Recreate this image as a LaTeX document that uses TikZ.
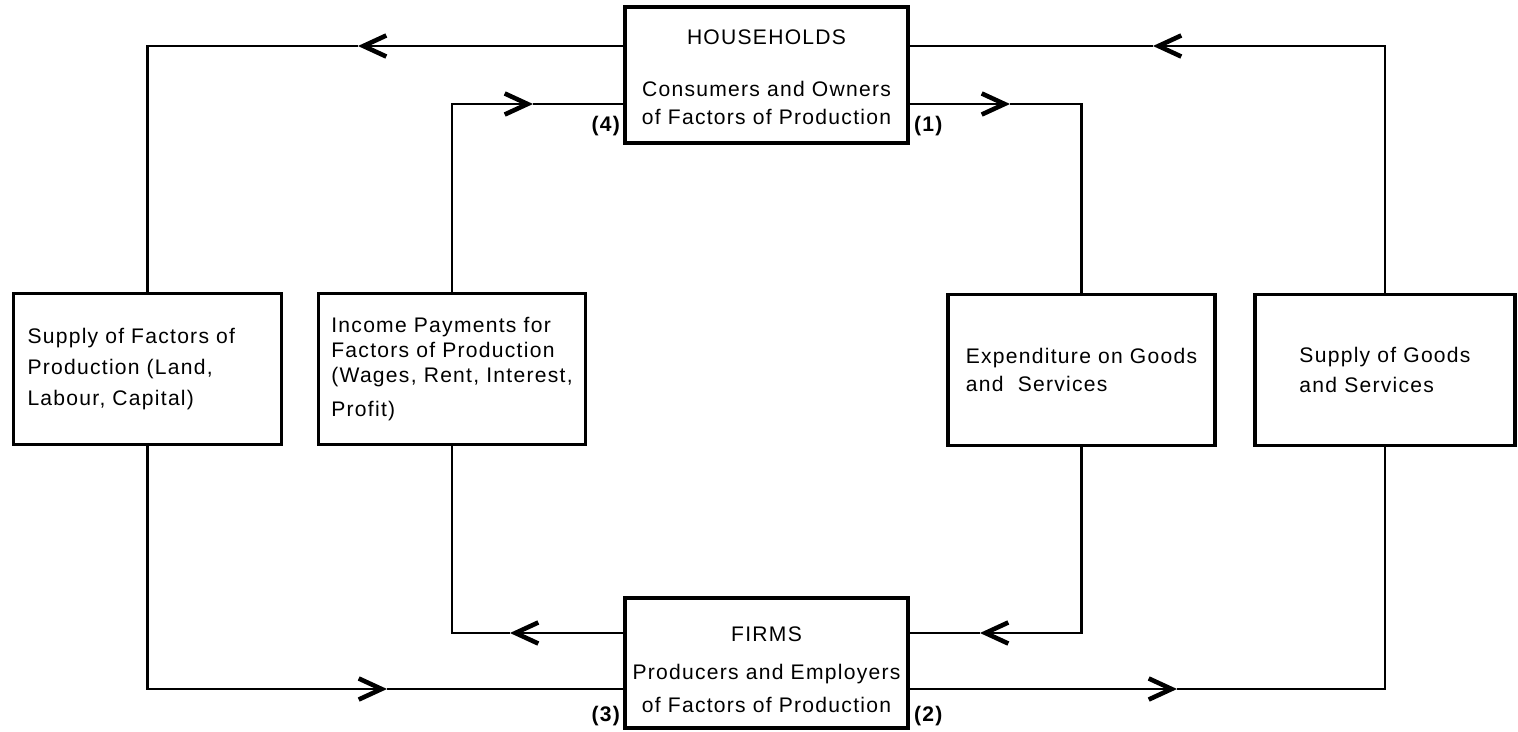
\documentclass[tikz,border=0pt]{standalone}
\usepackage{fontspec}
\setmainfont{Liberation Sans}[LetterSpace=6]
\usetikzlibrary{arrows.meta, positioning, calc}

\begin{document}
\begin{tikzpicture}[x=0.02cm, y=-0.02cm,
    box/.style={draw, line width=1.9pt, align=left, inner sep=0pt},
    sidebox/.style={box, minimum width=5.34cm, minimum height=3.02cm},
    mainbox/.style={box, align=center, minimum width=5.66cm, font=\fontsize{12}{16}\selectfont},
    wire/.style={line width=1.6pt},
    flow/.style={wire, -{Straight Barb[length=13pt, width=12pt, line width=2.6pt]}},
    num/.style={inner sep=0pt, font=\fontsize{12}{14}\selectfont\bfseries}]
    \useasboundingbox (0,0) rectangle (1518,731);

    % Sectors
    \node[mainbox, minimum height=2.72cm] (hh) at (766.5,75)
        {HOUSEHOLDS\rule{0pt}{11.4pt}\\[13.6pt] Consumers and Owners\\ of Factors of Production};
    \node[mainbox, minimum height=2.6cm] (ff) at (766.5,663)
        {FIRMS\rule{0pt}{16.5pt}\\[5.6pt] Producers and Employers\\[2.8pt] of Factors of Production};

    % Flows
    \node[sidebox, text width=4.8cm, inner xsep=0.28cm, font=\fontsize{12}{17.9}\selectfont] (sf) at (147.5,369)
        {Supply of Factors of\\ Production (Land,\\ Labour, Capital)};
    \node[sidebox, font=\fontsize{12}{14.2}\selectfont] (ip) at (452,369)
        {Income Payments for\\ Factors of Production\\ (Wages, Rent, Interest,\\[5.1pt] Profit)};
    \node[sidebox, font=\fontsize{12}{16}\selectfont] (ex) at (1081.5,370) {Expenditure on Goods\\ and\ \ Services};
    \node[sidebox, minimum width=5.2cm, font=\fontsize{12}{17}\selectfont] (sg) at (1385,370) {Supply of Goods\\ and Services};

    % Levels of the loops
    \coordinate (yo) at (0,46);
    \coordinate (yi) at (0,104);
    \coordinate (bi) at (0,633);
    \coordinate (bo) at (0,689);

    % Arrow tips
    \coordinate (a1) at (358,46);
    \coordinate (a2) at (387,689);
    \coordinate (a3) at (533,104);
    \coordinate (a4) at (510,633);
    \coordinate (a5) at (1010,104);
    \coordinate (a6) at (980,633);
    \coordinate (a7) at (1177,689);
    \coordinate (a8) at (1153,46);

    % Outer left loop
    \draw[flow] (hh.west |- yo) -- (a1);
    \draw[wire] (a1) -| (sf.north);
    \draw[flow] (sf.south) |- (a2);
    \draw[wire] (a2) -- (ff.west |- bo);

    % Inner left loop
    \draw[flow] (ff.west |- bi) -- (a4);
    \draw[wire] (a4) -| (ip.south);
    \draw[flow] (ip.north) |- (a3);
    \draw[wire] (a3) -- (hh.west |- yi);

    % Inner right loop
    \draw[flow] (hh.east |- yi) -- (a5);
    \draw[wire] (a5) -| (ex.north);
    \draw[flow] (ex.south) |- (a6);
    \draw[wire] (a6) -- (ff.east |- bi);

    % Outer right loop
    \draw[flow] (ff.east |- bo) -- (a7);
    \draw[wire] (a7) -| (sg.south);
    \draw[flow] (sg.north) |- (a8);
    \draw[wire] (a8) -- (hh.east |- yo);

    % Numbers
    \node[num, anchor=north east] (n4) at ($(hh.west |- yi)+(-3,12)$) {(4)};
    \node[num, anchor=north west] (n1) at ($(hh.east |- yi)+(4,12)$) {(1)};
    \node[num, anchor=north east] (n3) at ($(ff.west |- bo)+(-3,17)$) {(3)};
    \node[num, anchor=north west] (n2) at ($(ff.east |- bo)+(4,17)$) {(2)};
\end{tikzpicture}
\end{document}
